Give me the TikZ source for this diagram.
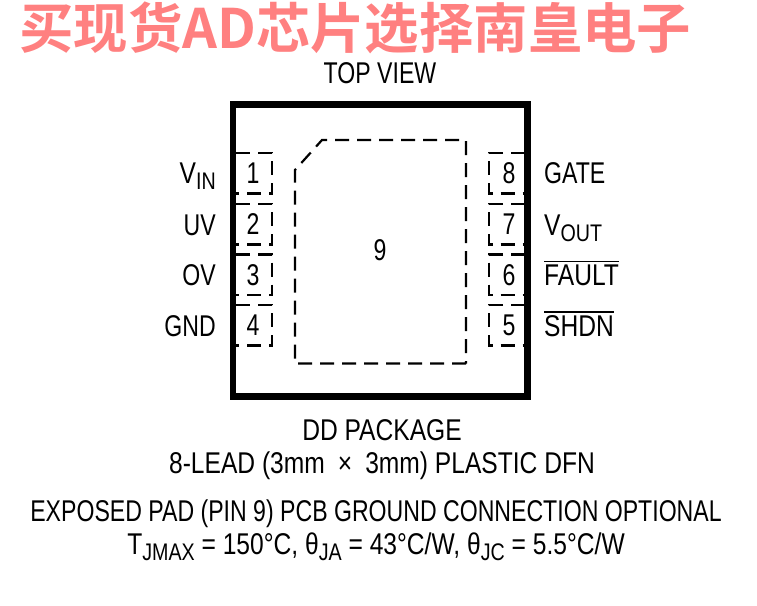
\documentclass[tikz,border=0pt]{standalone}
\usepackage{fontspec}
\setmainfont[FakeStretch=0.77]{Liberation Sans}
\newfontfamily\widefont[FakeStretch=0.82]{Liberation Sans}
\newfontfamily\cjk{Noto Sans CJK SC}[BoldFont={Noto Sans CJK SC Bold}]
\usetikzlibrary{positioning}
\definecolor{markred}{HTML}{FF8080}
\newcommand{\subtxt}[1]{\raisebox{-6pt}{\fontsize{24}{24}\selectfont #1}}
\newcommand{\bartxt}[1]{\leavevmode\vbox{\hrule height 1.6pt\kern 2pt\hbox{#1}}}

\begin{document}
\begin{tikzpicture}[x=1pt,y=-1pt,
  every node/.style={inner sep=0pt,font=\fontsize{30}{32}\selectfont},
  pinlabel/.style={anchor=base west},
  pinlabelr/.style={anchor=base east},
  widelabel/.style={font=\widefont\fontsize{30}{32}\selectfont},
  padnum/.style={font=\fontsize{30}{32}\selectfont},
  pkgtext/.style={anchor=base},
  padline/.style={line width=2.2pt,dash pattern=on 14pt off 8pt},
  pkgbox/.style={draw=black,line width=6.5pt}]

  \useasboundingbox (0,0) rectangle (757,605);

  \node (mark) [anchor=base west,text=markred,font=\cjk\bfseries\fontsize{54.4}{55}\selectfont] at (19,48.5) {买现货AD芯片选择南皇电子};

  \node (topview) [pkgtext] at (380,83) {TOP VIEW};

  \draw [pkgbox] (233,104.5) rectangle (527.5,396.5);

  % center pad
  \draw [padline] (466,363.5) -- (295,363.5) -- (295,170) -- (322,140) -- (466,140) -- cycle;
  \node (pad9) [padnum] at (380,250) {9};

  % left pins
  \foreach \n/\y in {1/153,2/204,3/254.5,4/305} {
    \draw [padline] (236,\y) -- (272,\y) -- (272,\y+40.5) -- (236,\y+40.5);
    \node (pin\n) [padnum] at (253,\y+20.5) {\n};
  }
  % right pins
  \foreach \n/\y in {8/153,7/204,6/254.5,5/305} {
    \draw [padline] (525,\y) -- (489,\y) -- (489,\y+40.5) -- (525,\y+40.5);
    \node (pin\n) [padnum] at (509,\y+20.5) {\n};
  }

  \node (vin) [pinlabelr,widelabel] at (216,183) {V\subtxt{IN}};
  \node (uv) [pinlabelr] at (216,235) {UV};
  \node (ov) [pinlabelr] at (216,285) {OV};
  \node (gnd) [pinlabelr] at (216,336) {GND};

  \node (gate) [pinlabel] at (544,183) {GATE};
  \node (vout) [pinlabel,widelabel] at (544,235) {V\subtxt{OUT}};
  \node (fault) [pinlabel,widelabel] at (544,285) {\bartxt{FAULT}};
  \node (shdn) [pinlabel,widelabel] at (544,336) {\bartxt{SHDN}};

  \node (ddpkg) [pkgtext,widelabel] at (382,440) {DD PACKAGE};
  \node (lead) [pkgtext,widelabel] at (382,473) {8-LEAD (3mm\hspace{13pt}×\hspace{13pt}3mm) PLASTIC DFN};
  \node (exposed) [pkgtext] at (376,521) {EXPOSED PAD (PIN 9) PCB GROUND CONNECTION OPTIONAL};
  \node (tjmax) [pkgtext,widelabel] at (376,554) {T\subtxt{JMAX} = 150°C, θ\subtxt{JA} = 43°C/W, θ\subtxt{JC} = 5.5°C/W};
\end{tikzpicture}
\end{document}
